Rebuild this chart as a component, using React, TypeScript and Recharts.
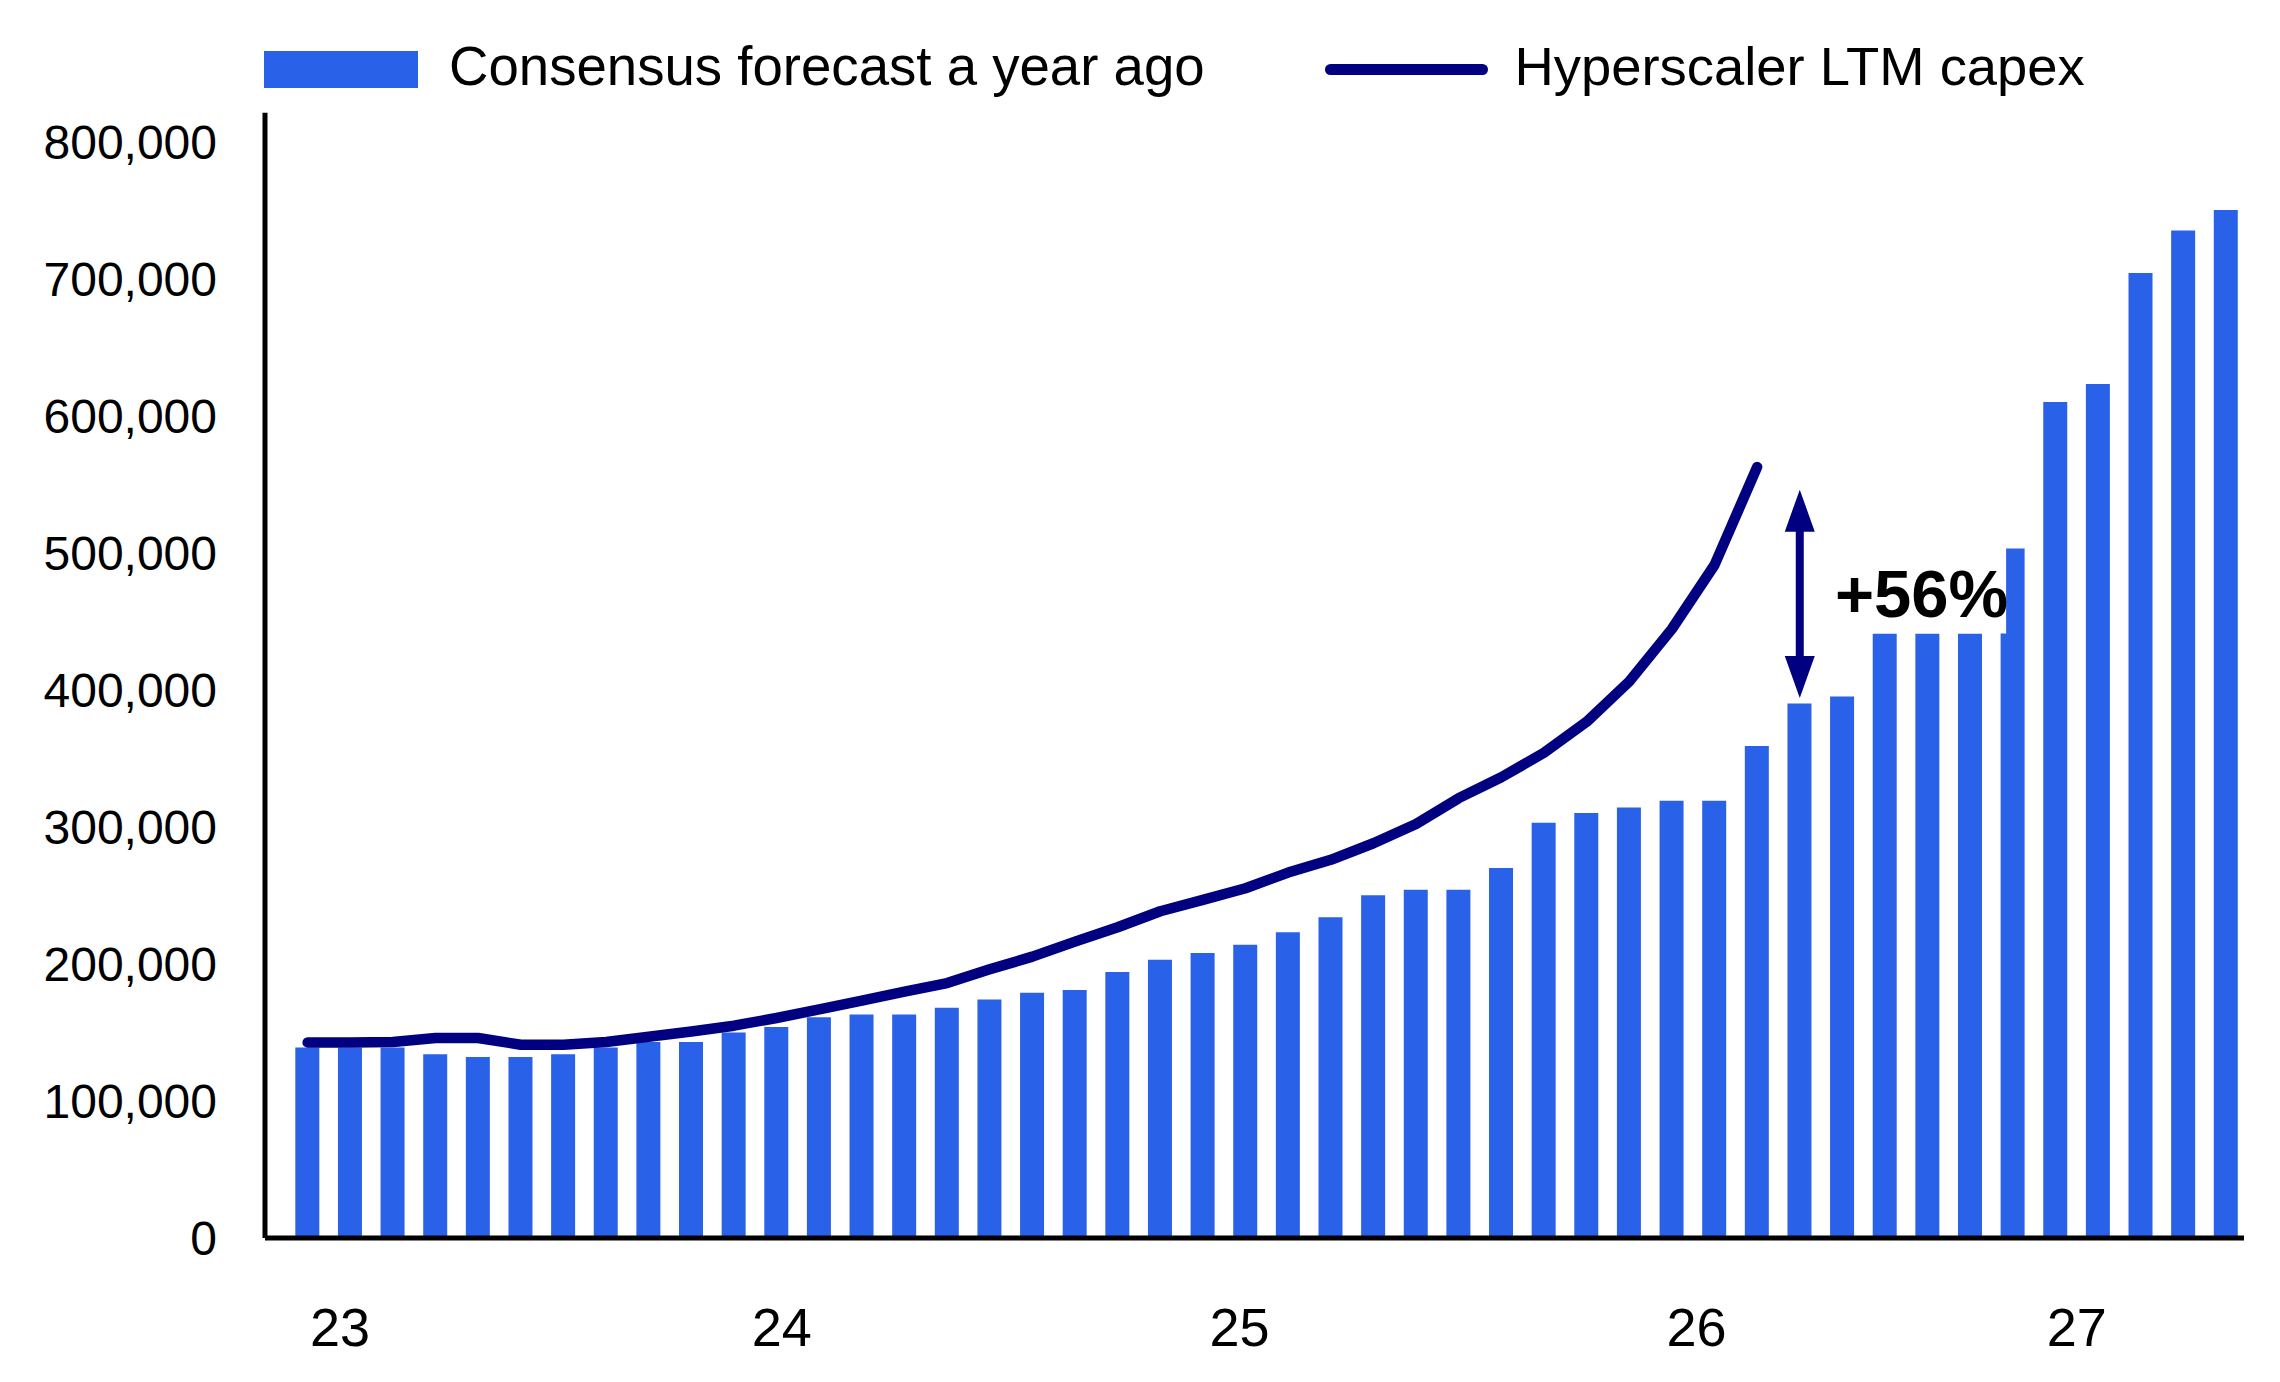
import React from 'react';
import {
  ComposedChart,
  Bar,
  Line,
  XAxis,
  YAxis,
  Legend,
  ReferenceLine,
  ReferenceArea,
} from 'recharts';

// ---- data ----
const seriesNames = ['Consensus forecast a year ago', 'Hyperscaler LTM capex'];

// consensus forecast a year ago (one value per period)
const consensusValues = [
  139000, 139000, 139000, 134000, 132000, 132000, 134000, 139000, 143000, 143000,
  150000, 154000, 161000, 163000, 163000, 168000, 174000, 179000, 181000, 194000,
  203000, 208000, 214000, 223000, 234000, 250000, 254000, 254000, 270000, 303000,
  310000, 314000, 319000, 319000, 359000, 390000, 395000, 441000, 441000, 441000,
  503000, 610000, 623000, 704000, 735000, 750000,
];

// hyperscaler LTM capex (actuals, ends earlier)
const ltmCapexValues = [
  142700, 142700, 143000, 145900, 145900, 141000, 141000, 143000, 146800, 150700,
  154900, 160500, 166800, 173200, 179700, 186000, 196000, 205300, 216200, 226700,
  238400, 246700, 255200, 266600, 275900, 288000, 302100, 320900, 336200, 354000,
  376600, 406000, 444300, 491000, 562500,
];

const yearLabels = ['23', '24', '25', '26', '27'];
const yearTickPositions = [0.76, 11.12, 21.86, 32.58, 41.5];
const yTicks = [0, 100000, 200000, 300000, 400000, 500000, 600000, 700000, 800000];

const gapLabel = '+56%';
const gapAt = 35;
const gapFrom = 394000;
const gapTo = 546000;

const data = consensusValues.map((v, i) => ({
  idx: i,
  consensus: v,
  ltm: i < ltmCapexValues.length ? ltmCapexValues[i] : null,
}));

// ---- styles ----
const FONT = '"Liberation Sans", Arial, Helvetica, sans-serif';
const BAR_COLOR = '#2962E8';
const LINE_COLOR = '#000080';

const LegendContent = () => (
  <svg width={2280} height={110} style={{ display: 'block' }}>
    <rect x={264} y={51} width={154} height={37} fill={BAR_COLOR} />
    <text x={449} y={85} fontSize={54.6} fontFamily={FONT} fill="#000">
      {seriesNames[0]}
    </text>
    <line
      x1={1330.5}
      x2={1482.5}
      y1={69.5}
      y2={69.5}
      stroke={LINE_COLOR}
      strokeWidth={11}
      strokeLinecap="round"
    />
    <text x={1514.5} y={85} fontSize={54.4} fontFamily={FONT} fill="#000">
      {seriesNames[1]}
    </text>
  </svg>
);

const DoubleArrow = (props: any) => {
  const { x1, y1, y2 } = props;
  const x = x1;
  const top = Math.min(y1, y2);
  const bottom = Math.max(y1, y2);
  const head = 42;
  const half = 15;
  return (
    <g>
      <line x1={x} x2={x} y1={top + head - 2} y2={bottom - head + 2} stroke={LINE_COLOR} strokeWidth={8} />
      <polygon points={`${x},${top} ${x - half},${top + head} ${x + half},${top + head}`} fill={LINE_COLOR} />
      <polygon points={`${x},${bottom} ${x - half},${bottom - head} ${x + half},${bottom - head}`} fill={LINE_COLOR} />
    </g>
  );
};

const GapLabel = (props: any) => {
  const vb = props.viewBox || {};
  return (
    <text
      x={vb.x + 1}
      y={vb.y + vb.height - 17}
      fontSize={67}
      fontWeight="bold"
      fontFamily={FONT}
      fill="#000"
    >
      {gapLabel}
    </text>
  );
};

export default function App() {
  return (
    <div style={{ position: 'absolute', left: 0, top: 0, width: 2280, height: 1382, background: '#fff' }}>
      <ComposedChart
        width={2280}
        height={1382}
        data={data}
        margin={{ top: 112.7, right: 36, bottom: 0, left: 0 }}
      >
        <Legend
          layout="horizontal"
          verticalAlign="middle"
          align="center"
          width={2280}
          height={110}
          wrapperStyle={{ top: 0, left: 0, width: 2280, height: 110 }}
          content={<LegendContent />}
        />
        <XAxis
          type="number"
          dataKey="idx"
          domain={[-1, 45.42]}
          ticks={yearTickPositions}
          interval={0}
          allowDataOverflow
          tickFormatter={(v: number) => {
            const k = yearTickPositions.indexOf(v);
            return k >= 0 ? yearLabels[k] : '';
          }}
          tickLine={false}
          tickSize={0}
          tickMargin={70}
          height={144}
          axisLine={{ stroke: '#000', strokeWidth: 5 }}
          tick={{ fill: '#000', fontSize: 54, fontFamily: FONT }}
        />
        <YAxis
          type="number"
          domain={[0, 821000]}
          ticks={yTicks}
          interval={0}
          allowDataOverflow
          tickFormatter={(v: number) => v.toLocaleString('en-US')}
          tickLine={false}
          tickSize={0}
          tickMargin={48}
          width={265}
          axisLine={{ stroke: '#000', strokeWidth: 5 }}
          tick={{ fill: '#000', fontSize: 48, fontFamily: FONT }}
        />
        <Bar
          dataKey="consensus"
          name={seriesNames[0]}
          fill={BAR_COLOR}
          barSize={24}
          isAnimationActive={false}
        />
        <Line
          type="linear"
          dataKey="ltm"
          name={seriesNames[1]}
          stroke={LINE_COLOR}
          strokeWidth={10.5}
          strokeLinecap="round"
          strokeLinejoin="round"
          dot={false}
          activeDot={false}
          connectNulls={false}
          isAnimationActive={false}
        />
        <ReferenceArea
          x1={35.8}
          x2={39.84}
          y1={441000}
          y2={570000}
          fill="#fff"
          fillOpacity={1}
          stroke="none"
          ifOverflow="visible"
          zIndex={350}
          label={<GapLabel />}
        />
        <ReferenceLine
          segment={[
            { x: gapAt, y: gapFrom },
            { x: gapAt, y: gapTo },
          ]}
          ifOverflow="visible"
          zIndex={450}
          shape={<DoubleArrow />}
        />
      </ComposedChart>
    </div>
  );
}
